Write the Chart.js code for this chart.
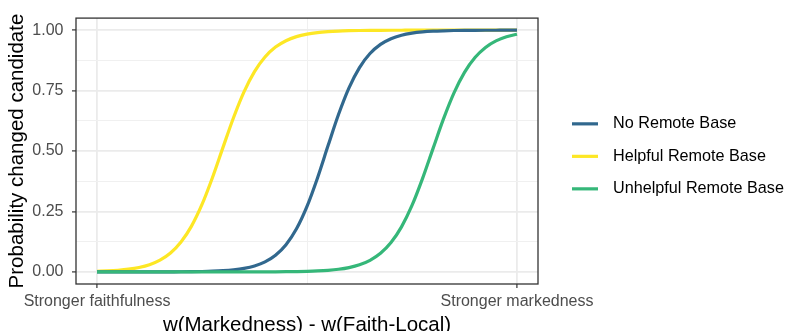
<!DOCTYPE html>
<html>
<head>
<meta charset="utf-8">
<script src="https://cdn.jsdelivr.net/npm/chart.js@4/dist/chart.umd.min.js"></script>
<style>
  html, body { margin: 0; padding: 0; background: #ffffff; }
  canvas { display: block; }
</style>
</head>
<body>
<canvas id="chart" width="785" height="331"></canvas>
<script>
// Weight difference w(Markedness) - w(Faith-Local), rescaled to 0..1
const weightDiff = [
  0, 0.025, 0.05, 0.075, 0.1, 0.125, 0.15, 0.175, 0.2, 0.225,
  0.25, 0.275, 0.3, 0.325, 0.35, 0.375, 0.4, 0.425, 0.45, 0.475,
  0.5, 0.525, 0.55, 0.575, 0.6, 0.625, 0.65, 0.675, 0.7, 0.725,
  0.75, 0.775, 0.8, 0.825, 0.85, 0.875, 0.9, 0.925, 0.95, 0.975, 1
];

// Probability of the changed candidate for each condition
const noRemoteBase = [
  0.0000, 0.0000, 0.0000, 0.0000, 0.0001, 0.0001, 0.0002, 0.0004, 0.0006, 0.0010,
  0.0017, 0.0029, 0.0050, 0.0086, 0.0146, 0.0247, 0.0415, 0.0690, 0.1126, 0.1785,
  0.2712, 0.3889, 0.5215, 0.6511, 0.7615, 0.8454, 0.9034, 0.9413, 0.9648, 0.9792,
  0.9877, 0.9928, 0.9958, 0.9975, 0.9986, 0.9992, 0.9995, 0.9997, 0.9998, 0.9999, 0.9999
];
const helpfulRemoteBase = [
  0.0025, 0.0041, 0.0068, 0.0112, 0.0184, 0.0300, 0.0489, 0.0784, 0.1236, 0.1894,
  0.2791, 0.3908, 0.5152, 0.6378, 0.7448, 0.8286, 0.8890, 0.9300, 0.9565, 0.9733,
  0.9837, 0.9901, 0.9940, 0.9964, 0.9978, 0.9987, 0.9992, 0.9995, 0.9997, 0.9998,
  0.9999, 0.9999, 0.9999, 1.0000, 1.0000, 1.0000, 1.0000, 1.0000, 1.0000, 1.0000, 1.0000
];
const unhelpfulRemoteBase = [
  0.0000, 0.0000, 0.0000, 0.0000, 0.0000, 0.0000, 0.0000, 0.0000, 0.0000, 0.0000,
  0.0000, 0.0000, 0.0000, 0.0001, 0.0001, 0.0002, 0.0003, 0.0005, 0.0009, 0.0015,
  0.0024, 0.0040, 0.0066, 0.0109, 0.0180, 0.0295, 0.0479, 0.0769, 0.1213, 0.1862,
  0.2749, 0.3858, 0.5100, 0.6330, 0.7408, 0.8256, 0.8869, 0.9286, 0.9556, 0.9728, 0.9834
];

const seriesNames = ['No Remote Base', 'Helpful Remote Base', 'Unhelpful Remote Base'];
const seriesColors = ['#31688E', '#FDE725', '#35B779'];

const xTickValues = [0, 1];
const xTickLabels = ['Stronger faithfulness', 'Stronger markedness'];
const xMinorTicks = [0.5];
const yTickValues = [0, 0.25, 0.5, 0.75, 1];
const yTickLabels = ['0.00', '0.25', '0.50', '0.75', '1.00'];
const yMinorTicks = [0.125, 0.375, 0.625, 0.875];

const FONT = "'Liberation Sans', Arial, sans-serif";
Chart.defaults.font.family = FONT;

function points(values) {
  return weightDiff.map((x, i) => ({ x: x, y: values[i] }));
}

function isMajor(list, v) {
  return list.some(t => Math.abs(t - v) < 1e-9);
}

function labelFor(values, labels, v) {
  const i = values.findIndex(t => Math.abs(t - v) < 1e-9);
  return i >= 0 ? labels[i] : '';
}

// ggplot-like panel border drawn around the plotting area
const panelBorder = {
  id: 'panelBorder',
  afterDatasetsDraw(chart) {
    const a = chart.chartArea;
    const ctx = chart.ctx;
    ctx.save();
    ctx.strokeStyle = '#333333';
    ctx.lineWidth = 1.3;
    ctx.strokeRect(a.left, a.top, a.right - a.left, a.bottom - a.top);
    ctx.restore();
  }
};

// Legend to the right of the panel, in series order
const sideLegend = {
  id: 'sideLegend',
  afterDraw(chart) {
    const ctx = chart.ctx;
    const x0 = chart.chartArea.right + 34;
    const yMid = (chart.chartArea.top + chart.chartArea.bottom) / 2;
    const rowH = 32.5;
    ctx.save();
    ctx.font = '16.2px ' + FONT;
    ctx.textBaseline = 'middle';
    ctx.textAlign = 'left';
    seriesNames.forEach((name, i) => {
      const y = yMid + (i - 1) * rowH + 5.3;
      ctx.strokeStyle = seriesColors[i];
      ctx.lineWidth = 3.2;
      ctx.beginPath();
      ctx.moveTo(x0, y);
      ctx.lineTo(x0 + 26, y);
      ctx.stroke();
      ctx.fillStyle = '#000000';
      ctx.fillText(name, x0 + 41, y);
    });
    ctx.restore();
  }
};

const lineStyle = {
  borderWidth: 3.2,
  pointRadius: 0,
  pointHoverRadius: 0,
  fill: false,
  cubicInterpolationMode: 'monotone'
};

new Chart(document.getElementById('chart'), {
  type: 'line',
  data: {
    datasets: [
      // first dataset is painted last, i.e. on top
      Object.assign({ label: seriesNames[2], data: points(unhelpfulRemoteBase), borderColor: seriesColors[2] }, lineStyle),
      Object.assign({ label: seriesNames[0], data: points(noRemoteBase), borderColor: seriesColors[0] }, lineStyle),
      Object.assign({ label: seriesNames[1], data: points(helpfulRemoteBase), borderColor: seriesColors[1] }, lineStyle)
    ]
  },
  options: {
    responsive: false,
    animation: false,
    events: [],
    layout: { padding: { top: 17, right: 247, left: 0, bottom: 0 } },
    plugins: {
      legend: { display: false },
      tooltip: { enabled: false }
    },
    scales: {
      x: {
        type: 'linear',
        min: -0.05,
        max: 1.05,
        afterBuildTicks(scale) {
          scale.ticks = xTickValues.concat(xMinorTicks).sort((a, b) => a - b).map(v => ({ value: v }));
        },
        afterFit(scale) { scale.height = 47; },
        ticks: {
          autoSkip: false,
          maxRotation: 0,
          minRotation: 0,
          padding: 3.5,
          color: '#4D4D4D',
          font: { size: 16 },
          callback: v => labelFor(xTickValues, xTickLabels, v)
        },
        grid: {
          drawTicks: true,
          tickLength: 4,
          tickWidth: 1.2,
          tickColor: c => isMajor(xTickValues, c.tick.value) ? '#333333' : 'rgba(0,0,0,0)',
          color: c => isMajor(xTickValues, c.tick.value) ? '#EBEBEB' : '#F0F0F0',
          lineWidth: c => isMajor(xTickValues, c.tick.value) ? 1.8 : 1
        },
        border: { display: false },
        title: {
          display: true,
          text: 'w(Markedness) - w(Faith-Local)',
          color: '#000000',
          font: { size: 20.5 },
          padding: { top: 0, bottom: -6.3 }
        }
      },
      y: {
        type: 'linear',
        min: -0.05,
        max: 1.05,
        afterBuildTicks(scale) {
          scale.ticks = yTickValues.concat(yMinorTicks).sort((a, b) => a - b).map(v => ({ value: v }));
        },
        afterFit(scale) { scale.width = 76; },
        ticks: {
          autoSkip: false,
          padding: 8.5,
          color: '#4D4D4D',
          font: { size: 16 },
          callback: v => labelFor(yTickValues, yTickLabels, v)
        },
        grid: {
          drawTicks: true,
          tickLength: 4,
          tickWidth: 1.2,
          tickColor: c => isMajor(yTickValues, c.tick.value) ? '#333333' : 'rgba(0,0,0,0)',
          color: c => isMajor(yTickValues, c.tick.value) ? '#EBEBEB' : '#F0F0F0',
          lineWidth: c => isMajor(yTickValues, c.tick.value) ? 1.8 : 1
        },
        border: { display: false },
        title: {
          display: true,
          text: 'Probability changed candidate',
          color: '#000000',
          font: { size: 20.5 },
          padding: { top: 5.5, bottom: 0 }
        }
      }
    }
  },
  plugins: [panelBorder, sideLegend]
});
</script>
</body>
</html>
